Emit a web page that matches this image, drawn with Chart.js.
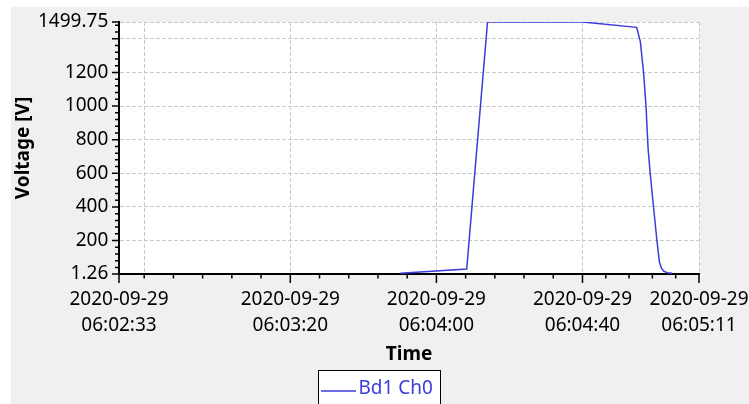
<!DOCTYPE html>
<html>
<head>
<meta charset="utf-8">
<script src="https://cdn.jsdelivr.net/npm/chart.js@4/dist/chart.umd.min.js"></script>
<style>
html,body{margin:0;padding:0;background:#fff;overflow:hidden}
canvas{display:block}
</style>
</head>
<body>
<canvas id="c" width="749" height="404"></canvas>
<script>
// ---------- data ----------
const seriesLabel = "Bd1 Ch0";
const dateText = "2020-09-29";
const xTitle = "Time";
const yTitle = "Voltage [V]";

const times = ["06:03:50.1","06:04:08.3","06:04:14.0","06:04:40.0","06:04:54.83","06:04:55.84",
               "06:04:56.74","06:04:57.40","06:04:57.95","06:04:58.58","06:04:59.48","06:05:00.42",
               "06:05:01.05","06:05:01.59","06:05:02.22","06:05:03.24","06:05:04.52"];
const volts = [5.4, 31, 1499.75, 1499.75, 1468, 1383,
               1195, 996, 750, 590, 392, 193,
               74, 37, 18, 9, 5.4];

const xMinTime = "06:02:33.1";
const xMaxTime = "06:05:11.9";
const xLabelTimes = ["06:02:33.1","06:03:20","06:04:00","06:04:40","06:05:11.9"];
const xGridTimes  = ["06:02:40","06:03:20","06:04:00","06:04:40","06:05:11.9"];

const yMin = 1.26, yMax = 1499.75;
const yLabelValues = [1.26, 200, 400, 600, 800, 1000, 1200, 1499.75];
const yGridValues  = [200, 400, 600, 800, 1000, 1200, 1400, 1499.75];
const yMinorStep = 40;

// ---------- helpers ----------
function toSec(s){const p=s.split(':');return (+p[0])*3600+(+p[1])*60+parseFloat(p[2]);}
function fmt(sec){sec=Math.floor(sec+1e-6);const h=Math.floor(sec/3600),m=Math.floor(sec%3600/60),s=sec%60;
  const z=n=>String(n).padStart(2,'0');return z(h)+':'+z(m)+':'+z(s);}
function has(arr,v){return arr.some(a=>Math.abs(a-v)<1e-3);}

const xMin=toSec(xMinTime), xMax=toSec(xMaxTime);
const xLabels=xLabelTimes.map(toSec), xGrid=xGridTimes.map(toSec);
let xTickVals=[...xLabels,...xGrid];
for(let i=0;i<xGrid.length-1;i++){const a=xGrid[i],b=xGrid[i+1];for(let k=1;k<5;k++)xTickVals.push(a+(b-a)*k/5);}
xTickVals=xTickVals.sort((a,b)=>a-b).filter((v,i,arr)=>i===0||Math.abs(v-arr[i-1])>1e-3);

let yTickVals=[...yLabelValues,...yGridValues];
for(let v=yMinorStep;v<yMax;v+=yMinorStep)yTickVals.push(v);
yTickVals=yTickVals.sort((a,b)=>a-b).filter((v,i,arr)=>i===0||Math.abs(v-arr[i-1])>1e-3);

const FONT="'Noto Sans', sans-serif";
const LINE="#3c3cdc";
const GRID="#cbcbcb";

const points=times.map((t,i)=>({x:toSec(t),y:volts[i]}));

const bgPlugin={id:'bg',beforeDraw(chart){const c=chart.ctx,a=chart.chartArea;c.save();
  c.fillStyle='#fff';c.fillRect(0,0,chart.width,chart.height);
  c.fillStyle='#f0f0f0';c.fillRect(11,7,chart.width-11,chart.height-7);
  c.fillStyle='#fff';c.fillRect(a.left,a.top,a.right-a.left,a.bottom-a.top);c.restore();}};

const tickPlugin={id:'ticks',afterDraw(chart){const c=chart.ctx,a=chart.chartArea,xs=chart.scales.x,ys=chart.scales.y;
  c.save();c.strokeStyle='#000';c.lineWidth=1.5;c.beginPath();
  xs.ticks.forEach(t=>{const px=xs.getPixelForValue(t.value);const len=has(xLabels,t.value)?9:4.5;
    c.moveTo(px,a.bottom);c.lineTo(px,a.bottom+len);});
  ys.ticks.forEach(t=>{const py=ys.getPixelForValue(t.value);const len=(has(yLabelValues,t.value)||has(yGridValues,t.value))?7:4;
    c.moveTo(a.left,py);c.lineTo(a.left-len,py);});
  c.stroke();c.restore();}};

const legendPlugin={id:'legbox',afterDraw(chart){const c=chart.ctx;const ds=chart.data.datasets[0];
  c.save();c.fillStyle='#fff';c.fillRect(318.5,370.5,122,40);
  c.strokeStyle='#000';c.lineWidth=1;c.strokeRect(318.5,370.5,122,40);
  c.strokeStyle=ds.borderColor;c.lineWidth=1.5;c.beginPath();c.moveTo(321,391);c.lineTo(356,391);c.stroke();
  c.fillStyle=ds.borderColor;c.font="19px "+FONT;c.textBaseline='middle';c.textAlign='left';
  c.fillText(ds.label,358.5,388.5);c.restore();}};

new Chart(document.getElementById('c'),{
  type:'line',
  data:{datasets:[{label:seriesLabel,data:points,borderColor:LINE,backgroundColor:LINE,borderWidth:1.5,
    pointRadius:0,tension:0,fill:false}]},
  options:{
    responsive:false,animation:false,devicePixelRatio:1,
    layout:{padding:{left:11,right:50,top:22,bottom:30}},
    plugins:{legend:{display:false},tooltip:{enabled:false}},
    scales:{
      x:{type:'linear',min:xMin,max:xMax,
        afterBuildTicks:s=>{s.ticks=xTickVals.map(v=>({value:v}));},
        afterFit:s=>{s.height=100;s.paddingLeft=0;s.paddingRight=0;},
        ticks:{autoSkip:false,maxRotation:0,minRotation:0,padding:12.2,color:'#000',
          font:{family:FONT,size:19,lineHeight:26/19},
          callback:v=>has(xLabels,v)?[dateText,fmt(v)]:''},
        grid:{drawTicks:false,color:c=>(c.tick&&has(xGrid,c.tick.value))?GRID:'rgba(0,0,0,0)',lineWidth:1},
        border:{display:true,color:'#000',width:2,dash:[4,2]},
        title:{display:true,text:xTitle,color:'#000',font:{family:FONT,size:19,weight:'bold'},padding:{top:0,bottom:7.6}}
      },
      y:{type:'linear',min:yMin,max:yMax,
        afterBuildTicks:s=>{s.ticks=yTickVals.map(v=>({value:v}));},
        afterFit:s=>{s.width=108;s.paddingTop=0;s.paddingBottom=0;},
        ticks:{autoSkip:false,padding:10.7,color:'#000',font:{family:FONT,size:19},
          callback:v=>has(yLabelValues,v)?String(v):''},
        grid:{drawTicks:false,color:c=>(c.tick&&has(yGridValues,c.tick.value))?GRID:'rgba(0,0,0,0)',lineWidth:1},
        border:{display:true,color:'#000',width:2,dash:[4,2]},
        title:{display:true,text:yTitle,color:'#000',font:{family:FONT,size:19,weight:'bold'},padding:{top:1,bottom:0}}
      }
    }
  },
  plugins:[bgPlugin,tickPlugin,legendPlugin]
});
</script>
</body>
</html>
